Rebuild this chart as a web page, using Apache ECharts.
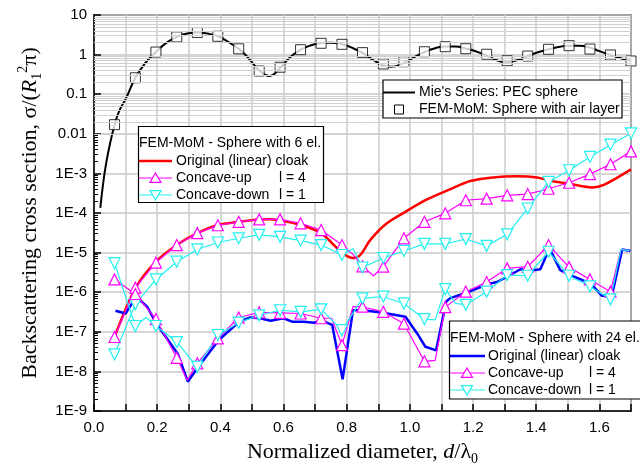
<!DOCTYPE html>
<html>
<head>
<meta charset="utf-8">
<script src="https://cdn.jsdelivr.net/npm/echarts@6/dist/echarts.min.js"></script>
<style>
  html, body { margin: 0; background: #fff; }
  #main { width: 640px; height: 474px; }
</style>
</head>
<body>
<div id="main"></div>
<script>
// spacing of the FEM-MoM frequency samples (markers sit on multiples of it)
const step = 0.0654;

// Mie's series, PEC sphere (smooth black line)
const mieD = [0.02, 0.03, 0.04, 0.05, 0.0654, 0.08, 0.1, 0.131, 0.16, 0.196, 0.23, 0.262, 0.295, 0.327, 0.36, 0.392,
  0.425, 0.458, 0.49, 0.523, 0.555, 0.589, 0.62, 0.654, 0.685, 0.719, 0.75, 0.785, 0.82, 0.85, 0.885, 0.916,
  0.94, 0.981, 1.013, 1.046, 1.08, 1.112, 1.145, 1.177, 1.21, 1.243, 1.275, 1.30, 1.34, 1.373, 1.405, 1.439,
  1.47, 1.504, 1.535, 1.57, 1.60, 1.635, 1.67, 1.70];
const mieS = [1.35e-4, 6.5e-4, 2.1e-3, 5.3e-3, 0.017, 0.038, 0.075, 0.26, 0.58, 1.16, 2.0, 2.8, 3.4, 3.6, 3.4, 2.9,
  2.1, 1.4, 0.8, 0.4, 0.29, 0.46, 0.85, 1.33, 1.7, 1.95, 2.0, 1.82, 1.45, 1.1, 0.72, 0.53,
  0.49, 0.62, 0.85, 1.15, 1.45, 1.6, 1.6, 1.42, 1.2, 0.95, 0.72, 0.65, 0.72, 0.92, 1.15, 1.36,
  1.55, 1.68, 1.67, 1.5, 1.22, 0.98, 0.8, 0.69];

// FEM-MoM, sphere with air layer (squares)
const airD = [0.065, 0.131, 0.196, 0.262, 0.327, 0.392, 0.458, 0.523, 0.589, 0.654, 0.719, 0.785, 0.85,
  0.916, 0.981, 1.046, 1.112, 1.177, 1.243, 1.308, 1.373, 1.439, 1.504, 1.570, 1.635, 1.700];
const airS = [0.017, 0.26, 1.16, 2.8, 3.6, 2.9, 1.4, 0.385, 0.48, 1.33, 1.93, 1.82, 1.12,
  0.58, 0.66, 1.18, 1.58, 1.41, 1.02, 0.70, 0.92, 1.36, 1.68, 1.38, 0.98, 0.69];

// sphere with 6 elements
const red6D = [0.065, 0.131, 0.196, 0.262, 0.327, 0.392, 0.458, 0.523, 0.555, 0.589, 0.654, 0.719, 0.787, 0.822,
  0.843, 0.875, 0.927, 0.986, 1.049, 1.128, 1.191, 1.255, 1.339, 1.403, 1.445, 1.508, 1.577, 1.614, 1.70];
const red6S = [7.4e-8, 1.25e-6, 5.9e-6, 1.55e-5, 3.1e-5, 5.0e-5, 6.0e-5, 6.9e-5, 7.0e-5, 6.5e-5, 5.0e-5, 3.1e-5, 9.6e-6, 7.3e-6,
  8.7e-6, 2.1e-5, 5.5e-5, 1.07e-4, 2.1e-4, 4.0e-4, 6.4e-4, 7.8e-4, 8.5e-4, 7.9e-4, 6.5e-4, 5.4e-4, 4.4e-4, 5.1e-4, 1.26e-3];

const up6D = [0.065, 0.131, 0.196, 0.262, 0.327, 0.392, 0.458, 0.523, 0.589, 0.654, 0.719, 0.785, 0.82, 0.85, 0.885,
  0.916, 0.981, 1.046, 1.112, 1.177, 1.243, 1.308, 1.373, 1.439, 1.504, 1.570, 1.635, 1.700];
const up6S = [7.4e-8, 1.3e-6, 5.6e-6, 1.55e-5, 3.1e-5, 4.9e-5, 6.0e-5, 6.9e-5, 6.9e-5, 5.5e-5, 3.7e-5, 1.55e-5, 9e-6, 4.5e-6, 2.6e-6,
  4.4e-6, 2.3e-5, 6.0e-5, 9.8e-5, 2.1e-4, 2.3e-4, 2.8e-4, 3.0e-4, 4.1e-4, 5.8e-4, 9.6e-4, 1.7e-3, 3.6e-3];

const down6D = [0.065, 0.131, 0.196, 0.262, 0.327, 0.392, 0.458, 0.523, 0.589, 0.654, 0.719, 0.785, 0.82, 0.85,
  0.916, 0.981, 1.046, 1.112, 1.177, 1.243, 1.308, 1.373, 1.439, 1.504, 1.570, 1.635, 1.700];
const down6S = [2.7e-8, 5.0e-7, 2.1e-6, 5.9e-6, 1.2e-5, 1.8e-5, 2.3e-5, 2.8e-5, 2.5e-5, 2.0e-5, 1.55e-5, 8.7e-6, 1.25e-5, 4.2e-6,
  7.3e-6, 1.1e-5, 1.66e-5, 1.66e-5, 2.2e-5, 1.48e-5, 2.9e-5, 1.3e-4, 6.1e-4, 1.2e-3, 2.6e-3, 5.3e-3, 1.02e-2];

// sphere with 24 elements
const blue24D = [0.068, 0.1, 0.134, 0.168, 0.2, 0.265, 0.297, 0.33, 0.395, 0.46, 0.495, 0.526, 0.559, 0.6, 0.627,
  0.664, 0.696, 0.722, 0.754, 0.787, 0.82, 0.854, 0.919, 0.986, 1.023, 1.049, 1.083, 1.115, 1.128, 1.181, 1.246,
  1.276, 1.313, 1.35, 1.378, 1.413, 1.442, 1.476, 1.508, 1.573, 1.608, 1.64, 1.672, 1.698];
const blue24S = [3.4e-7, 2.9e-7, 7.7e-7, 4.3e-7, 1.5e-7, 2.8e-8, 5.5e-9, 1.3e-8, 6.2e-8, 1.8e-7, 2.3e-7, 2.2e-7, 1.9e-7, 2.2e-7, 1.8e-7,
  1.8e-7, 1.7e-7, 1.9e-7, 1.5e-7, 6.3e-9, 3.5e-7, 3.5e-7, 3.0e-7, 2.4e-7, 9.1e-8, 4.2e-8, 3.4e-8, 5.8e-7, 7.1e-7, 9.8e-7, 1.6e-6,
  1.8e-6, 2.6e-6, 3.8e-6, 3.5e-6, 3.8e-6, 1.28e-5, 3.6e-6, 2.7e-6, 1.65e-6, 8.1e-7, 8.5e-7, 1.2e-5, 1.1e-5];

const up24D = [0.065, 0.131, 0.196, 0.262, 0.295, 0.327, 0.392, 0.458, 0.523, 0.589, 0.654, 0.719, 0.752, 0.785, 0.82,
  0.85, 0.916, 0.981, 1.046, 1.08, 1.112, 1.177, 1.243, 1.308, 1.373, 1.439, 1.504, 1.570, 1.635, 1.668, 1.695];
const up24S = [2.1e-6, 9.0e-7, 2.1e-7, 2.2e-8, 6e-9, 1.6e-8, 6.8e-8, 2.3e-7, 3.1e-7, 3.0e-7, 2.9e-7, 2.2e-7, 2.2e-7, 4.6e-8, 4.3e-7,
  4.3e-7, 3.2e-7, 1.6e-7, 1.8e-8, 1.9e-8, 4.2e-7, 1.03e-6, 1.8e-6, 4.0e-6, 4.4e-6, 1.55e-5, 4.3e-6, 2.1e-6, 1.03e-6, 1.2e-5, 1.1e-5];

const down24D = [0.065, 0.131, 0.165, 0.196, 0.262, 0.327, 0.392, 0.458, 0.523, 0.589, 0.654, 0.719, 0.785, 0.85,
  0.916, 0.981, 1.046, 1.08, 1.112, 1.145, 1.177, 1.243, 1.308, 1.373, 1.439, 1.504, 1.570, 1.635, 1.668, 1.695];
const down24S = [5.4e-6, 1.4e-7, 2.3e-7, 1.4e-7, 5.5e-8, 1.3e-8, 8.3e-8, 1.7e-7, 2.6e-7, 3.5e-7, 3.2e-7, 3.7e-7, 1.1e-7, 7.0e-7,
  7.7e-7, 5.2e-7, 2.1e-7, 2.0e-7, 1.2e-6, 5.2e-7, 4.8e-7, 1.03e-6, 2.7e-6, 2.6e-6, 1.05e-5, 2.6e-6, 1.4e-6, 6.6e-7, 1.2e-5, 1.1e-5];

// axis ticks
const decades = [1e-9, 1e-8, 1e-7, 1e-6, 1e-5, 1e-4, 1e-3, 0.01, 0.1, 1, 10];
const decadeLabels = ['1E-9', '1E-8', '1E-7', '1E-6', '1E-5', '1E-4', '1E-3', '0.01', '0.1', '1', '10'];
const minorMult = [2, 3, 4, 5, 6, 7, 8, 9];

const minorVals = [];
decades.slice(0, -1).forEach(d => minorMult.forEach(m => minorVals.push(m * d)));

const MAG = '#ff00ff', CYAN = '#22f0f0', RED = '#ff0000', BLUE = '#0000ff';
const SANS = 'Liberation Sans, Arial, sans-serif';
const SERIF = 'Liberation Serif, Times New Roman, serif';

function pairs(xs, ys) { return xs.map((x, i) => [x, ys[i]]); }
function onGrid(x) { const k = x / step; return Math.abs(k - Math.round(k)) < 0.05; }

function markerSeries(xs, ys, color, down) {
  return {
    type: 'line',
    data: pairs(xs, ys),
    symbol: (v) => onGrid(v[0]) ? 'triangle' : 'none',
    symbolSize: 11,
    symbolRotate: down ? 180 : 0,
    lineStyle: { color: color, width: 1.2 },
    itemStyle: { color: '#fff', borderColor: color, borderWidth: 1.2 },
    z: 4
  };
}

// legend decorations
function box(x, y, w, h) {
  return { type: 'rect', shape: { x: x, y: y, width: w, height: h },
    style: { fill: '#fff', stroke: '#000', lineWidth: 1.2 }, z: 100 };
}
function txt(x, y, s) {
  return { type: 'text', x: x, y: y, z: 101,
    style: { text: s, fill: '#000', font: '14px ' + SANS, verticalAlign: 'middle' } };
}
function seg(x1, x2, y, color, w) {
  return { type: 'line', shape: { x1: x1, y1: y, x2: x2, y2: y }, z: 101,
    style: { stroke: color, lineWidth: w } };
}
function tri(cx, cy, color, down) {
  const h = 5.5;
  const pts = down
    ? [[cx - h, cy - h * 0.8], [cx + h, cy - h * 0.8], [cx, cy + h * 0.9]]
    : [[cx - h, cy + h * 0.8], [cx + h, cy + h * 0.8], [cx, cy - h * 0.9]];
  return { type: 'polygon', shape: { points: pts }, z: 102,
    style: { fill: '#fff', stroke: color, lineWidth: 1.2 } };
}

const graphics = [
  // 6 elements
  box(138.5, 126.5, 185, 76),
  txt(139, 143.5, 'FEM-MoM - Sphere with 6 el.'),
  seg(139, 172, 161, RED, 2.5), txt(176, 161, 'Original (linear) cloak'),
  seg(139, 172, 178, MAG, 1.2), tri(155.5, 178, MAG, false), txt(176, 178, 'Concave-up'), txt(279, 178, 'l = 4'),
  seg(139, 172, 195, CYAN, 1.2), tri(155.5, 195, CYAN, true), txt(176, 195, 'Concave-down'), txt(279, 195, 'l = 1'),
  // Mie
  box(383, 80, 239, 38),
  seg(383, 415, 92.5, '#000', 2), txt(419, 92.5, "Mie's Series: PEC sphere"),
  { type: 'rect', shape: { x: 394.5, y: 105, width: 9, height: 9 }, z: 102,
    style: { fill: '#fff', stroke: '#000', lineWidth: 1 } },
  txt(419, 109.5, 'FEM-MoM: Sphere with air layer'),
  // 24 elements
  box(449.5, 321, 196, 78),
  txt(450, 338.5, 'FEM-MoM - Sphere with 24 el.'),
  seg(450, 485, 356, BLUE, 2.5), txt(488, 356, 'Original (linear) cloak'),
  seg(450, 485, 373, MAG, 1.2), tri(467, 373, MAG, false), txt(488, 373, 'Concave-up'), txt(589, 373, 'l = 4'),
  seg(450, 485, 390, CYAN, 1.2), tri(467, 390, CYAN, true), txt(488, 390, 'Concave-down'), txt(589, 390, 'l = 1')
];

const chart = echarts.init(document.getElementById('main'), null, { renderer: 'canvas' });
chart.setOption({
  animation: false,
  backgroundColor: '#fff',
  grid: { left: 94, right: 9, top: 15, bottom: 63, show: true, borderColor: '#000', borderWidth: 1.5,
    backgroundColor: 'transparent' },
  xAxis: {
    type: 'value', min: 0, max: 1.7, interval: 0.1,
    name: '{t|Normalized diameter, }{i|d}{t|/λ}{s|0}',
    nameLocation: 'middle', nameGap: 27,
    nameTextStyle: {
      color: '#000',
      rich: {
        t: { fontFamily: SERIF, fontSize: 22, color: '#000', lineHeight: 28 },
        i: { fontFamily: SERIF, fontSize: 22, fontStyle: 'italic', color: '#000', lineHeight: 28 },
        s: { fontFamily: SERIF, fontSize: 14, color: '#000', lineHeight: 28, verticalAlign: 'bottom' }
      }
    },
    axisLine: { lineStyle: { color: '#000', width: 1.5 } },
    axisTick: { inside: true, length: 7, lineStyle: { color: '#000', width: 1.5 } },
    axisLabel: {
      color: '#000', fontFamily: SANS, fontSize: 15, margin: 9,
      formatter: (v) => (Math.round(v * 10) % 2 === 0 ? v.toFixed(1) : '')
    },
    splitLine: { show: true, lineStyle: { color: '#cccccc', width: 1.5 } }
  },
  yAxis: [{
    type: 'log', logBase: 10, min: 1e-9, max: 10, splitNumber: 10,
    name: '{t|Backscattering cross section, σ/(}{i|R}{s|1}{p|2}{t|π)}',
    nameLocation: 'middle', nameGap: 50, nameRotate: 90,
    nameTextStyle: {
      color: '#000',
      rich: {
        t: { fontFamily: SERIF, fontSize: 22, color: '#000', lineHeight: 28 },
        i: { fontFamily: SERIF, fontSize: 22, fontStyle: 'italic', color: '#000', lineHeight: 28 },
        s: { fontFamily: SERIF, fontSize: 14, color: '#000', lineHeight: 28, verticalAlign: 'bottom' },
        p: { fontFamily: SERIF, fontSize: 14, color: '#000', lineHeight: 28, verticalAlign: 'top' }
      }
    },
    axisLine: { show: true, lineStyle: { color: '#000', width: 1.5 } },
    axisTick: { show: true, inside: true, length: 7, lineStyle: { color: '#000', width: 1.5 } },
    axisLabel: {
      color: '#000', fontFamily: SANS, fontSize: 15, margin: 7,
      formatter: (v) => {
        const i = decades.findIndex(d => Math.abs(Math.log10(d) - Math.log10(v)) < 1e-6);
        return i >= 0 ? decadeLabels[i] : '';
      }
    },
    splitLine: { show: true, lineStyle: { color: '#c8c8c8', width: 1.5 } }
  }, {
    type: 'log', logBase: 10, min: 1e-9, max: 10, position: 'left',
    axisLine: { show: false },
    axisTick: { show: true, inside: true, length: 4, customValues: minorVals,
      lineStyle: { color: '#000', width: 1 } },
    axisLabel: { show: false },
    splitLine: { show: false }
  }],
  graphic: graphics,
  series: [
    {
      type: 'line', data: [], yAxisIndex: 0, z: 0, silent: true,
      markLine: {
        silent: true, symbol: 'none', animation: false,
        label: { show: false },
        lineStyle: { color: '#d0d0d0', width: 1, type: 'solid' },
        data: minorVals.map(v => ({ yAxis: v }))
      }
    },
    { type: 'line', data: pairs(mieD, mieS), smooth: true, showSymbol: false, symbol: 'none',
      lineStyle: { color: '#000', width: 2 }, z: 2 },
    { type: 'scatter', data: pairs(airD, airS), symbol: 'rect', symbolSize: 10,
      itemStyle: { color: '#fff', borderColor: '#000', borderWidth: 1 }, z: 3 },
    { type: 'line', data: pairs(red6D, red6S), smooth: 0.3, symbol: 'none',
      lineStyle: { color: RED, width: 2.5 }, z: 3 },
    { type: 'line', data: pairs(blue24D, blue24S), symbol: 'none',
      lineStyle: { color: BLUE, width: 2.5 }, z: 3 },
    markerSeries(up6D, up6S, MAG, false),
    markerSeries(down6D, down6S, CYAN, true),
    markerSeries(up24D, up24S, MAG, false),
    markerSeries(down24D, down24S, CYAN, true)
  ]
});
</script>
</body>
</html>
